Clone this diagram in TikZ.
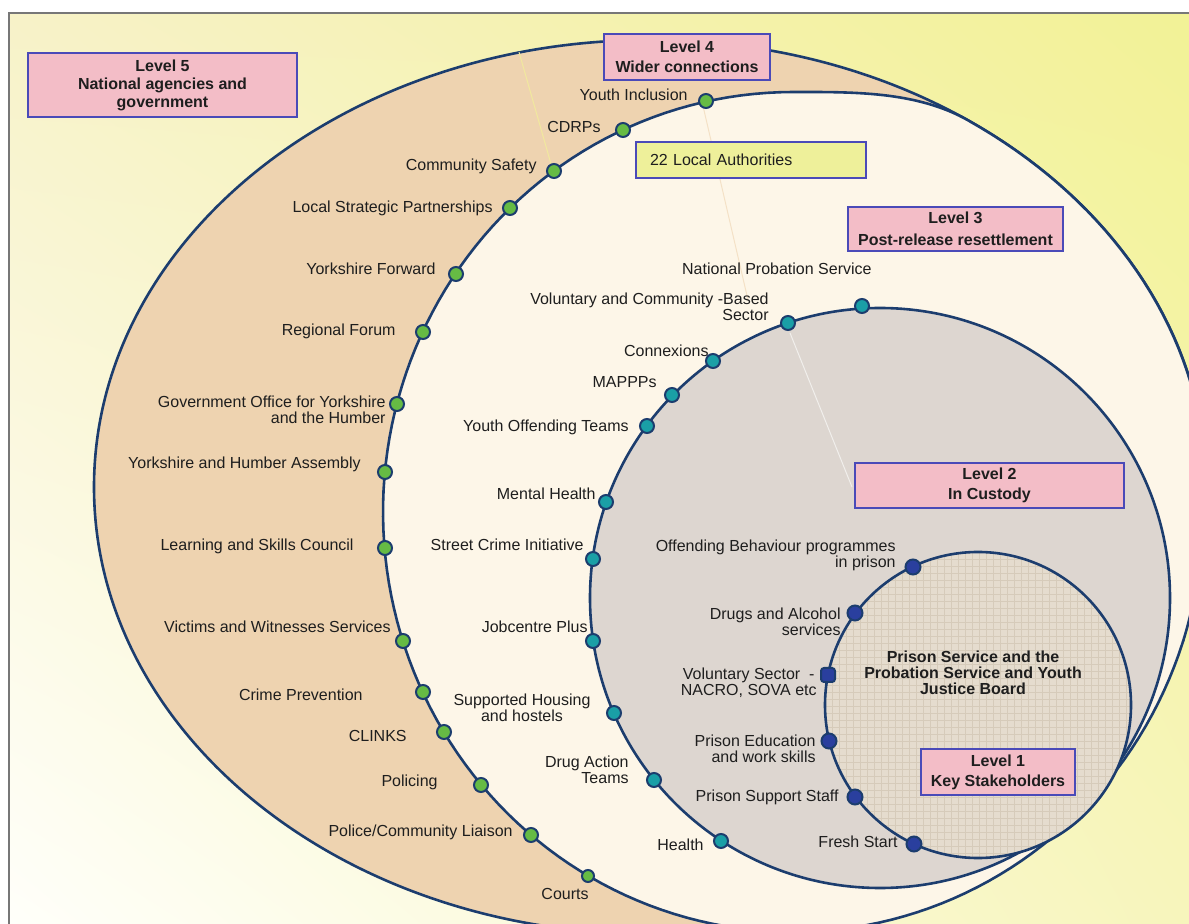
\documentclass[tikz,border=0pt]{standalone}
\usepackage{fontspec}
\usetikzlibrary{shadings}
\setmainfont{Liberation Sans}
\definecolor{navy}{HTML}{1C3D6E}
\definecolor{tanfill}{HTML}{EED3B0}
\definecolor{creamfill}{HTML}{FDF6E8}
\definecolor{grayfill}{HTML}{DDD6D0}
\definecolor{onefill}{HTML}{E5DCCE}
\definecolor{gridc}{HTML}{D6CBBA}
\definecolor{boxpink}{HTML}{F3BDC7}
\definecolor{boxblue}{HTML}{4A4AB8}
\definecolor{layellow}{HTML}{EEF09A}
\definecolor{dotgreen}{HTML}{66BB44}
\definecolor{dotteal}{HTML}{1A9FA6}
\definecolor{dotblue}{HTML}{2A3F9E}
\definecolor{txt}{HTML}{1E1E1E}
\definecolor{bgTL}{HTML}{F7F2C8}
\definecolor{bgTR}{HTML}{F2F296}
\definecolor{bgBL}{HTML}{FFFFFA}
\definecolor{bgBR}{HTML}{F7F5BC}
\definecolor{framegray}{HTML}{777777}
\newcommand\lblfont{\fontsize{8}{8}\selectfont}
\newcommand\boxfont{\bfseries\fontsize{8}{10}\selectfont}
\begin{document}
\begin{tikzpicture}[x=0.5pt,y=-0.5pt,
  ring/.style={draw=navy, line width=1.3pt},
  lvl/.style={draw=boxblue, fill=boxpink, line width=1.1pt, font=\boxfont, align=center, inner sep=0pt, text=txt},
  labox/.style={draw=boxblue, fill=layellow, line width=1.1pt, font=\lblfont, inner sep=0pt, text=txt},
  dotbase/.style={draw=navy, line width=1pt, minimum size=7pt, inner sep=0pt},
  gdot/.style={dotbase, circle, fill=dotgreen},
  tdot/.style={dotbase, circle, fill=dotteal},
  bdot/.style={dotbase, circle, fill=dotblue, minimum size=7.5pt},
  bsq/.style={dotbase, rectangle, rounded corners=1.5pt, fill=dotblue, minimum size=7pt},
  lbl/.style={font=\lblfont, inner sep=0pt, text=txt},
  faint/.style={line width=0.5pt}
]
\useasboundingbox (0,0) rectangle (1189,924);
\clip (0,0) rectangle (1189,924);
\fill[white] (0,0) rectangle (1189,924);
\shade[upper left=bgTL, upper right=bgTR, lower left=bgBL, lower right=bgBR] (9,13) rectangle (1189,924);
\draw[framegray, line width=0.7pt] (9,924) -- (9,13) -- (1189,13);

% Level 5 outer band (ellipse)
\path[ring, fill=tanfill] (650,487) ellipse [x radius=556, y radius=447];
\draw[faint, color=bgTR!70!tanfill] (519,52) -- (551,164);

% Level 4 region
\path[ring, fill=creamfill] (793,92) .. controls (853,92) and (917,91) .. (968.9,120.8)
  -- plot[domain=-55:5, samples=40] ({650+556*cos(\x)},{487+447*sin(\x)})
  .. controls (1199.6,565.8) and (1195,603.7) .. (1182.9,641.8)
  -- plot[domain=18:270, samples=140] ({793+410*cos(\x)},{512+420*sin(\x)}) -- cycle;
\draw[faint, color=tanfill!60!creamfill] (703,106) -- (748,300);

% Level 3 circle
\draw[ring, fill=grayfill] (880,598) circle [radius=290];
\draw[faint, color=white!60!grayfill] (790,333) -- (852,487);

% Level 1 circle with checked texture
\fill[onefill] (978,705) circle [radius=153];
\begin{scope}
  \clip (978,705) circle [radius=153];
  \foreach \g in {0,7,...,308} {
    \draw[gridc, line width=0.25pt] (825+\g,550) -- (825+\g,860);
    \draw[gridc, line width=0.25pt] (823,552+\g) -- (1133,552+\g);
  }
\end{scope}
\draw[ring] (978,705) circle [radius=153];

% Boxes
\node[lvl, minimum width=134.5pt, minimum height=32pt, font=\bfseries\fontsize{8}{9}\selectfont] (L5) at (162.5,85) {Level 5\\National agencies and\\government};
\node[lvl, minimum width=83pt, minimum height=23pt] (L4) at (687,57) {Level 4\\Wider connections};
\node[labox, minimum width=115pt, minimum height=18pt, inner xsep=7pt, text width=101pt, align=left] (LA) at (751,160) {22 Local Authorities};
\node[lvl, minimum width=107.5pt, minimum height=22pt, font=\bfseries\fontsize{8}{11}\selectfont] (L3) at (955.5,229) {Level 3\\Post-release resettlement};
\node[lvl, minimum width=134.5pt, minimum height=22.5pt] (L2) at (989.5,485.5) {Level 2\\In Custody};
\node[lvl, minimum width=77pt, minimum height=23pt] (L1) at (998,772) {Level 1\\Key Stakeholders};

\node[font=\bfseries\fontsize{8}{8}\selectfont, align=center, inner sep=0pt, text=txt] (core) at (973,673)
  {Prison Service and the\\Probation Service and Youth\\Justice Board};

% Level 4 ring nodes (green)
\node[gdot] (g1) at (706,101) {};
\node[gdot] (g2) at (623,130) {};
\node[gdot] (g3) at (554,171) {};
\node[gdot] (g4) at (510,208) {};
\node[gdot] (g5) at (456,274) {};
\node[gdot] (g6) at (423,332) {};
\node[gdot] (g7) at (397,404) {};
\node[gdot] (g8) at (385,472) {};
\node[gdot] (g9) at (385,548) {};
\node[gdot] (g10) at (403,641) {};
\node[gdot] (g11) at (423,692) {};
\node[gdot] (g12) at (444,732) {};
\node[gdot] (g13) at (481,785) {};
\node[gdot] (g14) at (531,835) {};
\node[gdot, minimum size=6pt] (g15) at (588,876) {};

\node[lbl, anchor=east] (gt1) at (688,95) {Youth Inclusion};
\node[lbl, anchor=east] (gt2) at (601,127) {CDRPs};
\node[lbl, anchor=east] (gt3) at (537,166) {Community Safety};
\node[lbl, anchor=east] (gt4) at (493,208) {Local Strategic Partnerships};
\node[lbl, anchor=east] (gt5) at (436,269) {Yorkshire Forward};
\node[lbl, anchor=east] (gt6) at (396,331) {Regional Forum};
\node[lbl, anchor=east, align=right] (gt7) at (386,410) {Government Office for Yorkshire\\and the Humber};
\node[lbl, anchor=east] (gt8) at (361,464) {Yorkshire and Humber Assembly};
\node[lbl, anchor=east] (gt9) at (354,546) {Learning and Skills Council};
\node[lbl, anchor=east] (gt10) at (391,627) {Victims and Witnesses Services};
\node[lbl, anchor=east] (gt11) at (363,695) {Crime Prevention};
\node[lbl, anchor=east] (gt12) at (407,736) {CLINKS};
\node[lbl, anchor=east] (gt13) at (438,782) {Policing};
\node[lbl, anchor=east] (gt14) at (513,832) {Police/Community Liaison};
\node[lbl, anchor=east] (gt15) at (589,894) {Courts};

% Level 3 ring nodes (teal)
\node[tdot] (t1) at (862,306) {};
\node[tdot] (t2) at (788,323) {};
\node[tdot] (t3) at (713,361) {};
\node[tdot] (t4) at (672,395) {};
\node[tdot] (t5) at (647,426) {};
\node[tdot] (t6) at (606,502) {};
\node[tdot] (t7) at (593,559) {};
\node[tdot] (t8) at (593,641) {};
\node[tdot] (t9) at (614,713) {};
\node[tdot] (t10) at (654,780) {};
\node[tdot] (t11) at (721,841) {};

\node[lbl, anchor=east] (tt1) at (872,269) {National Probation Service};
\node[lbl, anchor=east, align=right] (tt2) at (769,307) {Voluntary and Community -Based\\Sector};
\node[lbl, anchor=east] (tt3) at (709,351) {Connexions};
\node[lbl, anchor=east] (tt4) at (657,382) {MAPPPs};
\node[lbl, anchor=east] (tt5) at (629,427) {Youth Offending Teams};
\node[lbl, anchor=east] (tt6) at (596,494) {Mental Health};
\node[lbl, anchor=east] (tt7) at (584,545) {Street Crime Initiative};
\node[lbl, anchor=east] (tt8) at (588,627) {Jobcentre Plus};
\node[lbl, align=center] (tt9) at (522,708) {Supported Housing\\and hostels};
\node[lbl, anchor=east, align=right] (tt10) at (629,770) {Drug Action\\Teams};
\node[lbl, anchor=east] (tt11) at (704,845) {Health};

% Level 2 ring nodes (blue)
\node[bdot] (b1) at (913,567) {};
\node[bdot] (b2) at (855,613) {};
\node[bsq] (b3) at (828,675) {};
\node[bdot] (b4) at (829,741) {};
\node[bdot] (b5) at (855,797) {};
\node[bdot] (b6) at (914,844) {};

\node[lbl, anchor=east, align=right] (bt1) at (896,555) {Offending Behaviour programmes\\in prison};
\node[lbl, anchor=east, align=right] (bt2) at (841,622) {Drugs and Alcohol\\services};
\node[lbl, anchor=east, align=center] (bt3) at (817,683) {Voluntary Sector \ -\\NACRO, SOVA etc};
\node[lbl, anchor=east, align=right] (bt4) at (816,749) {Prison Education\\and work skills};
\node[lbl, anchor=east] (bt5) at (839,797) {Prison Support Staff};
\node[lbl, anchor=east] (bt6) at (898,842) {Fresh Start};
\end{tikzpicture}
\end{document}
